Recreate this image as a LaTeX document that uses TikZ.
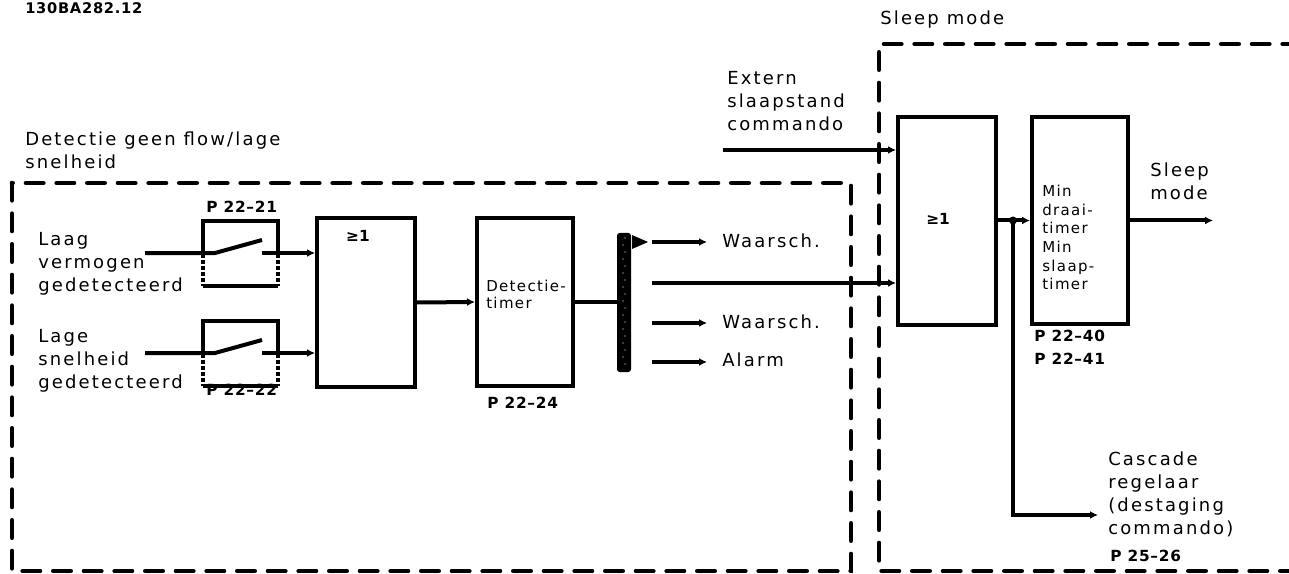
\documentclass[tikz,border=0pt]{standalone}
\usepackage{fontspec}
\setmainfont{DejaVu Sans}[LetterSpace=12]
\newfontfamily\fsmall{DejaVu Sans}[LetterSpace=9]
\newfontfamily\fbold{DejaVu Sans}[LetterSpace=5]
\newfontfamily\fge{DejaVu Sans}
\usetikzlibrary{arrows.meta}
\begin{document}
\begin{tikzpicture}[x=0.75pt,y=-0.75pt,
  ln/.style={line width=3pt},
  arr/.style={line width=3pt,-{Latex[length=6pt,width=6pt]}},
  dbox/.style={line width=3.5pt,dash pattern=on 13pt off 10pt,line cap=round},
  blk/.style={draw,line width=3pt,inner sep=0pt},
  txt/.style={anchor=north west,inner sep=0pt,align=left,font=\fontsize{13.5}{17.25}\selectfont},
  stxt/.style={anchor=north west,inner sep=0pt,align=left,font=\fsmall\fontsize{11.25}{12.75}\selectfont},
  mtxt/.style={anchor=north west,inner sep=0pt,align=left,font=\fsmall\fontsize{11.25}{14}\selectfont},
  ptxt/.style={anchor=north west,inner sep=0pt,align=left,font=\fbold\fontsize{11.5}{17.25}\selectfont\bfseries},
  ge/.style={inner sep=0pt,font=\fge\fontsize{11.5}{13}\selectfont\bfseries}]
\useasboundingbox (0,0) rectangle (1289,574);
\clip (0,0) rectangle (1289,574);

% titles
\node[ptxt,font=\fbold\fontsize{11}{13}\selectfont\bfseries] (code) at (25,2) {130BA282.12};
\node[txt] (sleeplbl) at (880,11) {Sleep mode};
\node[txt] (detlbl) at (25,132) {Detectie geen flow/lage\\snelheid};

% dashed regions
\draw[dbox] (12,183) rectangle (851,571);
\draw[dbox] (1300,44) -- (879,44) -- (879,571) -- (1300,571);

% inputs
\node[txt] (in1lbl) at (38,232) {Laag\\vermogen\\gedetecteerd};
\node[txt] (in2lbl) at (38,329) {Lage\\snelheid\\gedetecteerd};

% switch boxes
\node[minimum width=56.25pt,minimum height=48.75pt,inner sep=0pt] (sw1) at (240.5,253.5) {};
\node[minimum width=56.25pt,minimum height=48.75pt,inner sep=0pt] (sw2) at (240.5,353.5) {};
\foreach \s in {sw1,sw2}{
  \draw[ln] (\s.west) |- (\s.north east) -- (\s.east);
  \draw[line width=3pt,dash pattern=on 3pt off 1.5pt] (\s.west) -- (\s.south west);
  \draw[line width=3pt,dash pattern=on 3pt off 1.5pt] (\s.east) -- (\s.south east);
  \draw[ln] (\s.south west) -- (\s.south east);
}
\node[ptxt] (p2221) at (206,201) {P 22–21};
\node[ptxt] (p2222) at (206,384) {P 22–22};

% OR 1 and detection timer
\node[blk,minimum width=73.5pt,minimum height=126.75pt] (or1) at (366,302.5) {};
\node[ge] (ge1) at (358,236) {≥1};
\node[blk,minimum width=72pt,minimum height=125.25pt] (tm1) at (525,302) {};
\node[stxt] (tm1lbl) at (486,280) {Detectie-\\timer};
\node[ptxt] (p2224) at (487,397) {P 22–24};

\coordinate (a1) at (145,253);
\coordinate (a1b) at (215,253);
\coordinate (a1c) at (262,240);
\coordinate (a1d) at (262,253);
\draw[ln] (a1) -- (a1b) -- (a1c);
\draw[arr] (a1d) -- (a1d -| or1.west);
\coordinate (a2) at (145,353);
\coordinate (a2b) at (215,353);
\coordinate (a2c) at (262,340);
\coordinate (a2d) at (262,353);
\draw[ln] (a2) -- (a2b) -- (a2c);
\draw[arr] (a2d) -- (a2d -| or1.west);
\draw[arr] (or1.east) -- (tm1.west);

% bar
\node[fill=black,rounded corners=2pt,minimum width=10.5pt,minimum height=104.25pt,inner sep=0pt] (bar) at (624,302.5) {};
\foreach \yy [count=\i] in {238,245,...,366} {
  \fill[white] ({624+mod(\i,2)*2-1},\yy) circle (0.5pt);
}
\draw[ln] (tm1.east) -- (tm1.east -| bar.west);
\fill (632,235) -- (648,242) -- (632,249) -- cycle;

\coordinate (o1) at (652,242);
\coordinate (o1e) at (707,242);
\coordinate (o2) at (652,283);
\coordinate (o3) at (652,323);
\coordinate (o3e) at (707,323);
\coordinate (o4) at (652,362);
\coordinate (o4e) at (707,362);
\draw[arr] (o1) -- (o1e);
\draw[arr] (o3) -- (o3e);
\draw[arr] (o4) -- (o4e);
\node[txt] (w1) at (722,234) {Waarsch.};
\node[txt] (w2) at (722,315) {Waarsch.};
\node[txt] (al) at (722,353) {Alarm};

% sleep section
\node[blk,minimum width=73.5pt,minimum height=156pt] (or2) at (947,221) {};
\node[ge] (ge2) at (938,219) {≥1};
\node[blk,minimum width=72pt,minimum height=155.25pt] (tm2) at (1080,220.5) {};
\node[mtxt] (tm2lbl) at (1042,185) {Min\\draai-\\timer\\Min\\slaap-\\timer};
\node[ptxt] (p2240) at (1034,330) {P 22–40\\P 22–41};

\draw[arr] (o2) -- (o2 -| or2.west);
\node[txt] (extlbl) at (727,71) {Extern\\slaapstand\\commando};
\coordinate (ext) at (723,150);
\draw[arr] (ext) -- (ext -| or2.west);

\coordinate (jn) at (1013,220.5);
\draw[arr] (or2.east |- jn) -- (tm2.west |- jn);
\fill (jn) circle (3pt);
\coordinate (jd) at (1013,515);
\coordinate (cas) at (1098,515);
\draw[arr] (jn) -- (jd) -- (cas);
\coordinate (sl) at (1213,220.5);
\draw[arr] (tm2.east |- sl) -- (sl);
\node[txt] (sllbl) at (1150,163) {Sleep\\mode};
\node[txt] (caslbl) at (1108,452) {Cascade\\regelaar\\(destaging\\commando)};
\node[ptxt] (p2526) at (1110,550) {P 25–26};
\end{tikzpicture}
\end{document}
